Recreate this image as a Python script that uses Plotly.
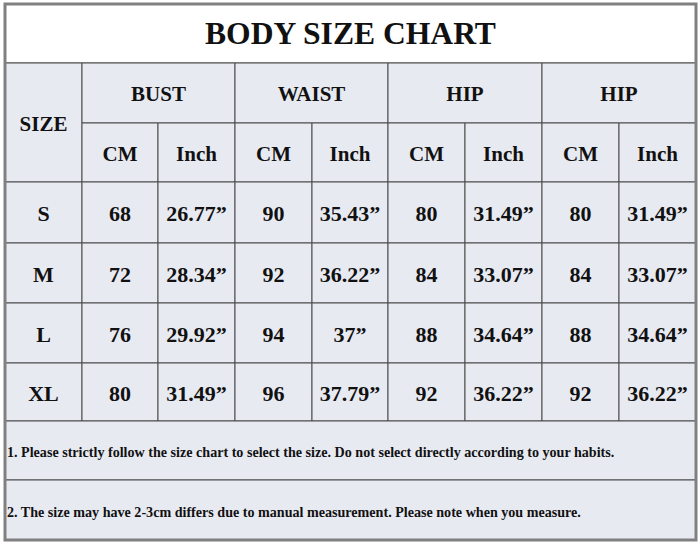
import plotly.graph_objects as go

# ---------------- data ----------------
title = "BODY SIZE CHART"
groups = ["BUST", "WAIST", "HIP", "HIP"]
units = ["CM", "Inch"]
size_label = "SIZE"
sizes = ["S", "M", "L", "XL"]
bust_cm = [68, 72, 76, 80]
bust_inch = ["26.77”", "28.34”", "29.92”", "31.49”"]
waist_cm = [90, 92, 94, 96]
waist_inch = ["35.43”", "36.22”", "37”", "37.79”"]
hip_cm = [80, 84, 88, 92]
hip_inch = ["31.49”", "33.07”", "34.64”", "36.22”"]
hip2_cm = [80, 84, 88, 92]
hip2_inch = ["31.49”", "33.07”", "34.64”", "36.22”"]
notes = [
    "1. Please strictly follow the size chart to select the size. Do not select directly according to your habits.",
    "2. The size may have 2-3cm differs due to manual measurement. Please note when you measure.",
]

# ---------------- layout geometry ----------------
W, H = 700, 544
col_edges = [5, 82, 158, 235, 312, 388, 465, 542, 619, 696]
row_edges = [4, 63, 123, 182, 243, 303, 363, 421, 480, 540]
FILL = "#E8EAF2"
LINE = "#4a4a4a"
OUTER = "#808080"
FONT = "Liberation Serif, Times New Roman, serif"

cols = [bust_cm, bust_inch, waist_cm, waist_inch, hip_cm, hip_inch, hip2_cm, hip2_inch]


def cx(i0, i1=None):
    i1 = i0 + 1 if i1 is None else i1
    return (col_edges[i0] + col_edges[i1]) / 2


def cy(j0, j1=None):
    j1 = j0 + 1 if j1 is None else j1
    return (row_edges[j0] + row_edges[j1]) / 2 + 3


shapes = []


def cell(i0, i1, j0, j1, fill=FILL):
    shapes.append(dict(type="rect", xref="x", yref="y",
                       x0=col_edges[i0], x1=col_edges[i1],
                       y0=row_edges[j0], y1=row_edges[j1],
                       fillcolor=fill, line=dict(color=LINE, width=1), layer="below"))


# title
cell(0, 9, 0, 1, fill="white")
# size header
cell(0, 1, 1, 3)
for g in range(len(groups)):
    cell(1 + 2 * g, 3 + 2 * g, 1, 2)
    for u in range(2):
        cell(1 + 2 * g + u, 2 + 2 * g + u, 2, 3)
for r in range(len(sizes)):
    for c in range(9):
        cell(c, c + 1, 3 + r, 4 + r)
for n in range(len(notes)):
    cell(0, 9, 7 + n, 8 + n)
# outer border
shapes.append(dict(type="rect", xref="x", yref="y", x0=col_edges[0], x1=col_edges[-1],
                   y0=row_edges[0], y1=row_edges[-1], line=dict(color=OUTER, width=3),
                   fillcolor="rgba(0,0,0,0)"))

fig = go.Figure()

# title
fig.add_trace(go.Scatter(x=[cx(0, 9)], y=[cy(0)], mode="text", text=[f"<b>{title}</b>"],
                         textfont=dict(family=FONT, size=31.6, color="#111"),
                         hoverinfo="skip", showlegend=False))
# headers
hx, hy, ht = [cx(0)], [cy(1, 3)], [size_label]
for g, name in enumerate(groups):
    hx.append(cx(1 + 2 * g, 3 + 2 * g)); hy.append(cy(1)); ht.append(name)
    for u, un in enumerate(units):
        hx.append(cx(1 + 2 * g + u)); hy.append(cy(2)); ht.append(un)
fig.add_trace(go.Scatter(x=hx, y=hy, mode="text", text=[f"<b>{t}</b>" for t in ht],
                         textfont=dict(family=FONT, size=21, color="#111"),
                         hoverinfo="skip", showlegend=False))
# body
bx, by, bt = [], [], []
for r, s in enumerate(sizes):
    bx.append(cx(0)); by.append(cy(3 + r)); bt.append(s)
    for c, arr in enumerate(cols):
        bx.append(cx(1 + c)); by.append(cy(3 + r)); bt.append(str(arr[r]))
fig.add_trace(go.Scatter(x=bx, y=by, mode="text", text=[f"<b>{t}</b>" for t in bt],
                         textfont=dict(family=FONT, size=22, color="#111"),
                         hoverinfo="skip", showlegend=False))
# notes
fig.add_trace(go.Scatter(x=[col_edges[0] + 2] * len(notes), y=[cy(7 + n) for n in range(len(notes))],
                         mode="text", text=[f"<b>{t}</b>" for t in notes], textposition="middle right",
                         textfont=dict(family=FONT, size=14.1, color="#111"),
                         hoverinfo="skip", showlegend=False))

fig.update_layout(
    width=W, height=H, margin=dict(l=0, r=0, t=0, b=0),
    paper_bgcolor="white", plot_bgcolor="white",
    xaxis=dict(range=[0, W], visible=False, fixedrange=True),
    yaxis=dict(range=[H, 0], visible=False, fixedrange=True),
    shapes=shapes,
)
fig.write_html("out.html", config={"displayModeBar": False},
               post_script="document.body.style.margin='0';document.body.style.overflow='hidden';")
